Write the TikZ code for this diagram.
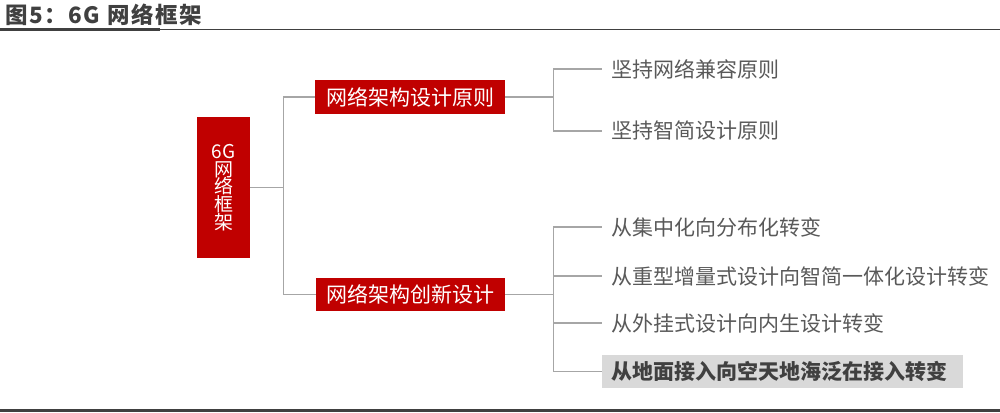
\documentclass[tikz,border=0pt]{standalone}
\usepackage{fontspec}
\setmainfont{Noto Sans CJK SC}
\usepackage{tikz}
\usetikzlibrary{calc}
\definecolor{boxred}{HTML}{C00000}
\definecolor{linkgray}{HTML}{A6A6A6}
\definecolor{textgray}{HTML}{595959}
\definecolor{darkgray}{HTML}{404040}
\definecolor{hlgray}{HTML}{D9D9D9}
\tikzset{
  redbox/.style={draw=none, fill=boxred, text=white, inner sep=0pt, font=\fontsize{21}{24}\selectfont},
  leafnode/.style={anchor=west, inner xsep=9pt, inner ysep=0pt, text=textgray, font=\fontsize{21}{24}\selectfont},
  link/.style={draw=linkgray, line width=1.2pt}
}
\newcommand{\leaf}[3]{\node[leafnode] (#1) at (602, #2) {#3};}
\newcommand{\branch}[2]{\draw[link] (#1.east) -- ++(48,0) |- (#2.west);}

\begin{document}
\begin{tikzpicture}[x=1pt, y=-1pt]
        \useasboundingbox (0,0) rectangle (1000,412);
        % title and rules
        \node[anchor=west, inner sep=0pt, text=darkgray, font=\fontsize{22.5}{24}\selectfont\bfseries\addfontfeature{LetterSpace=7}] (title) at (5,15) {图5：6G 网络框架};
        \draw[darkgray, line width=2.5pt] (0,29.5) -- (160,29.5);
        \draw[darkgray, line width=1.5pt] (160,29.5) -- (1000,29.5);
        \fill[darkgray] (0,409) rectangle (1000,412);
        % root
        \node[redbox, minimum width=53pt, minimum height=141pt, align=center, font=\fontsize{19}{17.7}\selectfont] (root) at (223.5,187.5) {6G\\网\\络\\框\\架};
        % level 1
        \node[redbox, minimum width=190pt, minimum height=34pt] (p1) at (410,97) {网络架构设计原则};
        \node[redbox, minimum width=189pt, minimum height=33pt] (p2) at (410.5,294.5) {网络架构创新设计};
        \draw[link] (root.east) -- ++(33,0) |- (p1.west);
        \draw[link] (root.east) -- ++(33,0) |- (p2.west);
        % leaves of p1
        \leaf{a1}{69}{坚持网络兼容原则}
        \leaf{a2}{131}{坚持智简设计原则}
        \branch{p1}{a1}
        \branch{p1}{a2}
        % leaves of p2
        \leaf{b1}{227}{从集中化向分布化转变}
        \leaf{b2}{276}{从重型增量式设计向智简一体化设计转变}
        \leaf{b3}{323}{从外挂式设计向内生设计转变}
        \node[leafnode, fill=hlgray, text=darkgray, minimum width=361pt, minimum height=33pt, text width=343pt, font=\fontsize{21}{24}\selectfont\bfseries] (b4) at (602,371.5) {从地面接入向空天地海泛在接入转变};
        \branch{p2}{b1}
        \branch{p2}{b2}
        \branch{p2}{b3}
        \branch{p2}{b4}
\end{tikzpicture}
\end{document}
